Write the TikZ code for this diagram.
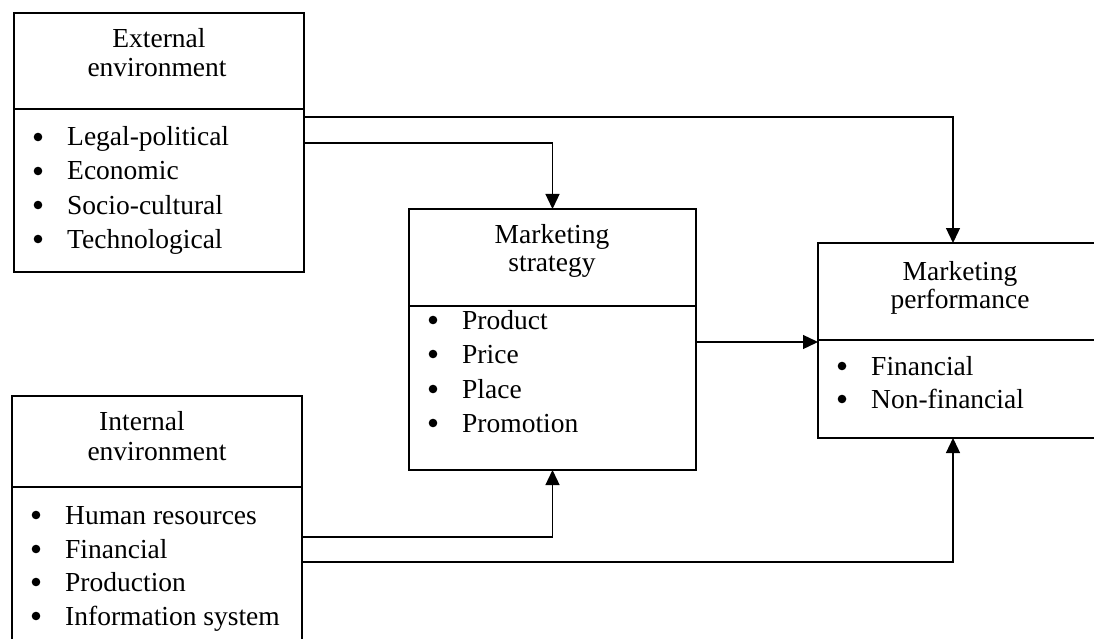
\documentclass[tikz,border=0pt]{standalone}
\usepackage{fontspec}
\setmainfont{Liberation Serif}
\usetikzlibrary{arrows.meta}
\begin{document}
\begin{tikzpicture}[x=1pt,y=-1pt,
  box/.style={draw, line width=1.4pt, inner sep=0pt, outer sep=0pt, anchor=north west},
  divline/.style={line width=1.4pt},
  arr/.style={line width=1.3pt, -{Triangle[length=15pt,width=14pt]}},
  ttl/.style={inner sep=0pt, anchor=base, font=\fontsize{27.5}{29}\selectfont},
  itm/.style={inner sep=0pt, anchor=base west, font=\fontsize{27.5}{34}\selectfont}]
\useasboundingbox (0,0) rectangle (1094,639);
% boxes
\node[box, minimum width=290pt, minimum height=259pt] (ext) at (14,13) {};
\node[box, minimum width=287pt, minimum height=261pt] (strat) at (409,209) {};
\node[box, minimum width=284pt, minimum height=195pt] (perf) at (818,243) {};
\node[box, minimum width=290pt, minimum height=264pt] (int) at (12,396) {};
% dividers
\draw[divline] ([yshift=-96pt]ext.north west) -- ([yshift=-96pt]ext.north east);
\draw[divline] ([yshift=-97pt]strat.north west) -- ([yshift=-97pt]strat.north east);
\draw[divline] ([yshift=-97pt]perf.north west) -- ([yshift=-97pt]perf.north east);
\draw[divline] ([yshift=-91pt]int.north west) -- ([yshift=-91pt]int.north east);
% titles
\node[ttl] (extt1) at (159,48) {External};
\node[ttl] (extt2) at (157,77) {environment};
\node[ttl] (strt1) at (552,243) {Marketing};
\node[ttl] (strt2) at (552,271) {strategy};
\node[ttl] (perft1) at (960,280) {Marketing};
\node[ttl] (perft2) at (960,308) {performance};
\node[ttl] (intt1) at (142,430) {Internal};
\node[ttl] (intt2) at (157,460) {environment};
% items
\node[itm] (e1) at (67,146) {Legal-political};
\node[itm] (e2) at (67,180) {Economic};
\node[itm] (e3) at (67,214) {Socio-cultural};
\node[itm] (e4) at (67,248) {Technological};
\node[itm] (s1) at (462,329) {Product};
\node[itm] (s2) at (462,363) {Price};
\node[itm] (s3) at (462,398) {Place};
\node[itm] (s4) at (462,432) {Promotion};
\node[itm] (p1) at (871,375) {Financial};
\node[itm] (p2) at (871,408) {Non-financial};
\node[itm] (i1) at (65,524) {Human resources};
\node[itm] (i2) at (65,558) {Financial};
\node[itm] (i3) at (65,591) {Production};
\node[itm] (i4) at (65,625) {Information system};
% bullets
\foreach \n in {e1,e2,e3,e4,s1,s2,s3,s4,p1,p2,i1,i2,i3,i4}
  \fill ([xshift=-29pt,yshift=9pt]\n.base west) circle (4.3pt);
% connectors
\coordinate (ea) at ([yshift=-104pt]ext.north east);
\coordinate (eb) at ([yshift=-130pt]ext.north east);
\coordinate (sa) at ([yshift=-133pt]strat.north east);
\coordinate (ia) at ([yshift=-141pt]int.north east);
\coordinate (ib) at ([yshift=-166pt]int.north east);
\coordinate (pt) at ([xshift=135pt]perf.north west);
\coordinate (pb) at ([xshift=135pt]perf.south west);
\draw[arr] (ea) -| (pt);
\draw[arr] (eb) -| (strat.north);
\draw[arr] (sa) -- (sa -| perf.west);
\draw[arr] (ia) -| (strat.south);
\draw[arr] (ib) -| (pb);
\end{tikzpicture}
\end{document}
